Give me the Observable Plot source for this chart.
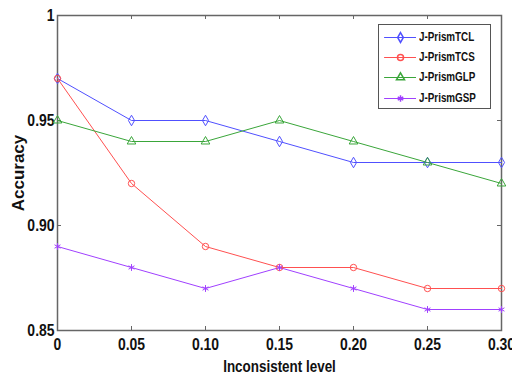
<!DOCTYPE html>
<html>
<head>
<meta charset="utf-8">
<script src="https://cdn.jsdelivr.net/npm/d3@7"></script>
<script src="https://cdn.jsdelivr.net/npm/@observablehq/plot@0.6"></script>
<style>
  html, body { margin: 0; padding: 0; background: #fff; }
  #wrap { position: relative; width: 512px; height: 376px; }
  #legend {
    position: absolute; left: 378px; top: 24px; width: 113px; height: 85px;
    border: 1px solid #555; background: #fff; box-sizing: border-box;
    font-family: "Liberation Sans", Arial, sans-serif;
    font-weight: bold; font-size: 12px; color: #111;
  }
  .item { position: absolute; left: 5px; height: 14px; display: flex; align-items: center; white-space: nowrap; }
  .item svg { margin-right: 3px; }
  .item span { display: inline-block; transform: scaleX(0.82); transform-origin: left center; }
</style>
</head>
<body>
<div id="wrap"><div id="legend"></div></div>
<script>
const levels = [0, 0.05, 0.10, 0.15, 0.20, 0.25, 0.30];
const xTickLabels = ["0", "0.05", "0.10", "0.15", "0.20", "0.25", "0.30"];
const yTicks = [0.85, 0.90, 0.95, 1];
const yTickLabels = ["0.85", "0.90", "0.95", "1"];

const seriesNames = ["J-PrismTCL", "J-PrismTCS", "J-PrismGLP", "J-PrismGSP"];
const tcl = [0.97, 0.95, 0.95, 0.94, 0.93, 0.93, 0.93];
const tcs = [0.97, 0.92, 0.89, 0.88, 0.88, 0.87, 0.87];
const glp = [0.95, 0.94, 0.94, 0.95, 0.94, 0.93, 0.92];
const gsp = [0.89, 0.88, 0.87, 0.88, 0.87, 0.86, 0.86];
const seriesColors = ["#5050ff", "#ff5050", "#3aa63a", "#a040ff"];
const seriesSymbols = ["diamond", "circle", "triangle", "asterisk"];

const seriesValues = [tcl, tcs, glp, gsp];
const rows = [];
seriesNames.forEach((name, i) => {
  levels.forEach((lv, j) => rows.push({series: name, level: lv, acc: seriesValues[i][j]}));
});

const W = 512, H = 376;
const mL = 57, mR = 11, mT = 15, mB = 46;
const plotW = W - mL - mR, plotH = H - mT - mB;
const tickLen = 4;
const axisColor = "#666";

const chart = Plot.plot({
  width: W, height: H,
  marginLeft: mL, marginRight: mR, marginTop: mT, marginBottom: mB,
  style: {fontFamily: '"Liberation Sans", Arial, sans-serif', fontWeight: "bold", fontSize: "17px", color: "#111", background: "#fff"},
  x: {domain: [0, 0.30]},
  y: {domain: [0.85, 1]},
  color: {domain: seriesNames, range: seriesColors},
  symbol: {domain: seriesNames, range: seriesSymbols},
  marks: [
    Plot.axisX(levels, {anchor: "bottom", tickSize: 0, tickPadding: 7, tickFormat: (d, i) => xTickLabels[i],
      label: "Inconsistent level", labelAnchor: "center", labelOffset: 41, labelArrow: "none"}),
    Plot.axisY(yTicks, {anchor: "left", tickSize: 0, tickPadding: 3, tickFormat: (d, i) => yTickLabels[i],
      label: "Accuracy", labelAnchor: "center", labelOffset: 46, labelArrow: "none"}),
    Plot.tickX(levels, {x: d => d, insetTop: plotH - tickLen, stroke: axisColor}),
    Plot.tickX(levels, {x: d => d, insetBottom: plotH - tickLen, stroke: axisColor}),
    Plot.tickY(yTicks, {y: d => d, insetRight: plotW - tickLen, stroke: axisColor}),
    Plot.tickY(yTicks, {y: d => d, insetLeft: plotW - tickLen, stroke: axisColor}),
    Plot.frame({stroke: axisColor, strokeWidth: 1.5}),
    Plot.line(rows, {x: "level", y: "acc", z: "series", stroke: "series", strokeWidth: 1}),
    Plot.dot(rows, {x: "level", y: "acc", stroke: "series", symbol: "series", r: 3.2, strokeWidth: 1, fill: "none"})
  ]
});
document.getElementById("wrap").prepend(chart);

// narrow (condensed) look for horizontal texts
function condense(selector, factor) {
  chart.querySelectorAll(selector).forEach(t => {
    const len = t.getComputedTextLength();
    if (len > 0) {
      t.setAttribute("textLength", (len * factor).toFixed(2));
      t.setAttribute("lengthAdjust", "spacingAndGlyphs");
    }
  });
}
condense('g[aria-label="x-axis tick label"] text', 0.82);
condense('g[aria-label="y-axis tick label"] text', 0.82);
condense('g[aria-label="x-axis label"] text', 0.79);

// legend
const legend = document.getElementById("legend");
const tops = [5, 25, 45, 66];
seriesNames.forEach((name, i) => {
  const item = document.createElement("div");
  item.className = "item";
  item.style.top = tops[i] + "px";
  const sw = Plot.plot({
    width: 32, height: 14, margin: 0,
    x: {domain: [0, 2], axis: null}, y: {domain: [0, 1], axis: null},
    color: {domain: seriesNames, range: seriesColors},
    symbol: {domain: seriesNames, range: seriesSymbols},
    marks: [
      Plot.line([{x: 0, y: 0.5, s: name}, {x: 2, y: 0.5, s: name}], {x: "x", y: "y", stroke: "s", strokeWidth: 1}),
      Plot.dot([{x: 1, y: 0.5, s: name}], {x: "x", y: "y", stroke: "s", symbol: "s", r: 3, fill: "none"})
    ]
  });
  sw.style.background = "transparent";
  item.appendChild(sw);
  const t = document.createElement("span");
  t.textContent = name;
  item.appendChild(t);
  legend.appendChild(item);
});
</script>
</body>
</html>
